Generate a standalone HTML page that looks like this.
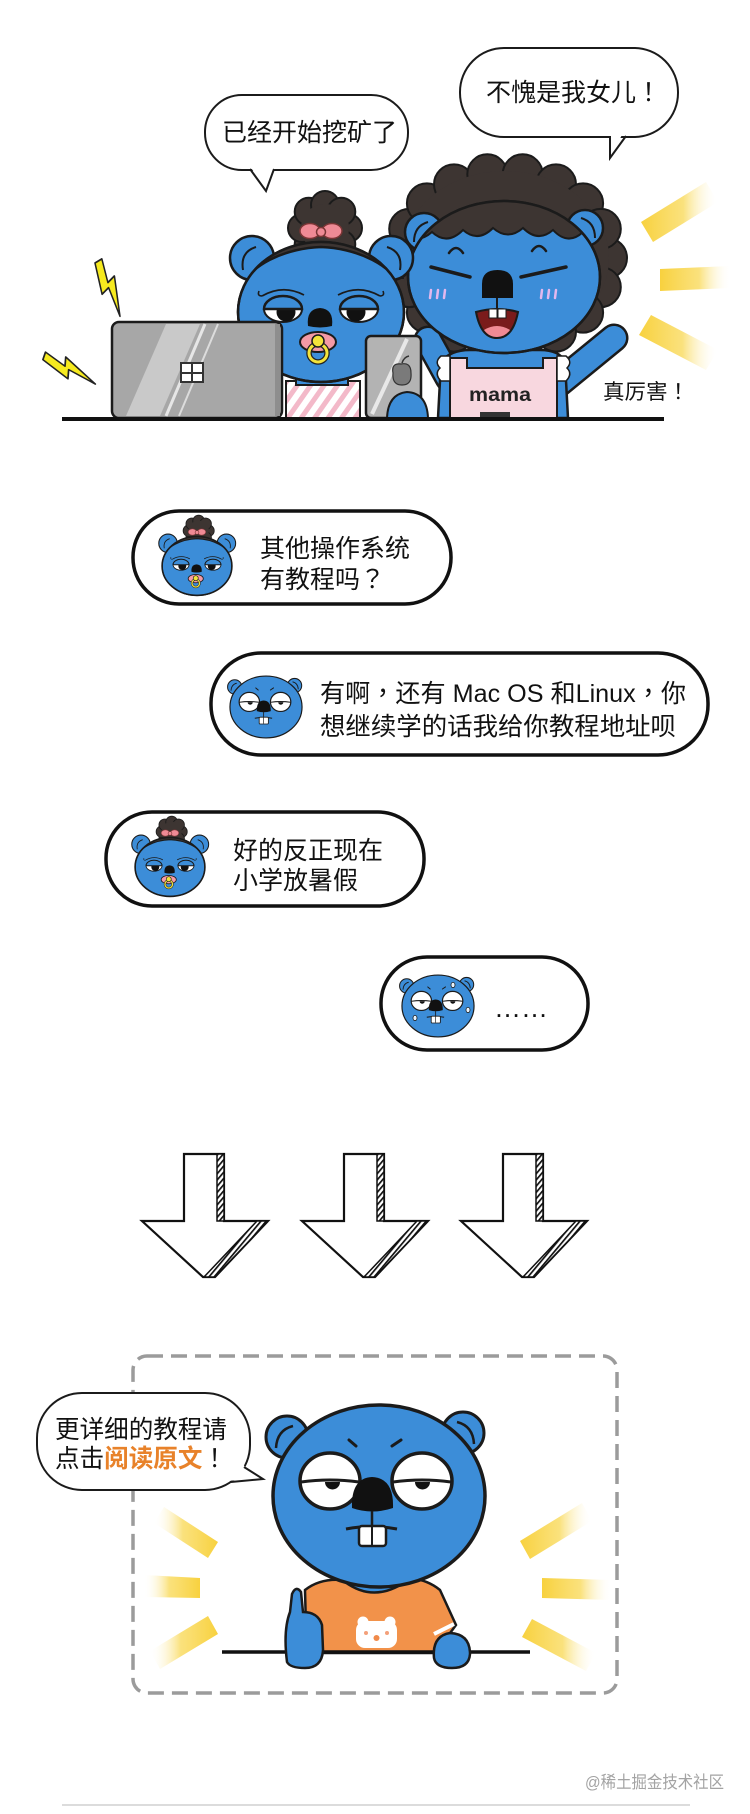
<!DOCTYPE html>
<html>
<head>
<meta charset="utf-8">
<style>
html,body{margin:0;padding:0;background:#fff;}
svg{display:block;}
text{font-family:"Liberation Sans","Noto Sans CJK TC",sans-serif;}
</style>
</head>
<body>
<svg width="750" height="1814" viewBox="0 0 750 1814" xmlns="http://www.w3.org/2000/svg">
<defs>
  <linearGradient id="gR" x1="0" y1="0" x2="1" y2="0">
    <stop offset="0" stop-color="#f8d13e" stop-opacity="1"/>
    <stop offset="0.55" stop-color="#f9da5c" stop-opacity="0.8"/>
    <stop offset="1" stop-color="#ffffff" stop-opacity="0"/>
  </linearGradient>
  <linearGradient id="gL" x1="1" y1="0" x2="0" y2="0">
    <stop offset="0" stop-color="#f8d13e" stop-opacity="1"/>
    <stop offset="0.55" stop-color="#f9da5c" stop-opacity="0.8"/>
    <stop offset="1" stop-color="#ffffff" stop-opacity="0"/>
  </linearGradient>
  <pattern id="hatch" width="4" height="4" patternUnits="userSpaceOnUse" patternTransform="rotate(40)">
    <rect width="4" height="4" fill="#fff"/>
    <rect x="0" y="0" width="1.7" height="4" fill="#111"/>
  </pattern>
  <pattern id="stripes" width="11" height="11" patternUnits="userSpaceOnUse" patternTransform="rotate(35)">
    <rect width="11" height="11" fill="#fff"/>
    <rect width="5" height="11" fill="#f3b9c9"/>
  </pattern>
  <clipPath id="momHead"><ellipse cx="504" cy="277" rx="96" ry="76"/></clipPath>
  <clipPath id="babyHead"><ellipse cx="321" cy="312" rx="83" ry="70"/></clipPath>
  <polygon id="bolt" points="12,0 2,26 11,24 6,50 22,18 13,20 20,0" fill="#f6ea1f" stroke="#222" stroke-width="1.5" stroke-linejoin="round"/>

  <g id="babyhead">
    <g fill="#3d3532" stroke="#1b1b1b" stroke-width="2">
      <circle cx="348" cy="228" r="14"/><circle cx="341.3" cy="244.3" r="14"/>
      <circle cx="325" cy="251" r="14"/><circle cx="308.7" cy="244.3" r="14"/>
      <circle cx="302" cy="228" r="14"/><circle cx="308.7" cy="211.7" r="14"/>
      <circle cx="325" cy="205" r="14"/><circle cx="341.3" cy="211.7" r="14"/>
    </g>
    <circle cx="325" cy="228" r="24" fill="#3d3532"/>
    <circle cx="252" cy="258" r="22" fill="#3c8dd8" stroke="#1b1b1b" stroke-width="2.5"/>
    <path d="M243,270 Q240,252 256,247" fill="none" stroke="#1b1b1b" stroke-width="2"/>
    <circle cx="391" cy="258" r="22" fill="#3c8dd8" stroke="#1b1b1b" stroke-width="2.5"/>
    <path d="M400,270 Q403,252 387,247" fill="none" stroke="#1b1b1b" stroke-width="2"/>
    <ellipse cx="321" cy="312" rx="83" ry="70" fill="#3c8dd8" stroke="#1b1b1b" stroke-width="2.5"/>
    <g clip-path="url(#babyHead)">
      <path d="M234,302 C244,262 290,248 321,247 C352,248 398,262 408,302 L420,302 L420,225 L222,225 L222,302 Z" fill="#3d3532" stroke="#1b1b1b" stroke-width="2.5"/>
    </g>
    <ellipse cx="321" cy="312" rx="83" ry="70" fill="none" stroke="#1b1b1b" stroke-width="2.5"/>
    <ellipse cx="310" cy="231" rx="10" ry="7.5" fill="#ef8a95" stroke="#7a3535" stroke-width="1.5"/>
    <ellipse cx="332" cy="231" rx="10" ry="7.5" fill="#ef8a95" stroke="#7a3535" stroke-width="1.5"/>
    <circle cx="321" cy="232" r="4.5" fill="#ef8a95" stroke="#7a3535" stroke-width="1.5"/>
    <path d="M262,296 Q283,284 304,295" fill="none" stroke="#1b1b1b" stroke-width="1.8"/>
    <path d="M262,296 Q257,296 259,291" fill="none" stroke="#1b1b1b" stroke-width="1.6"/>
    <ellipse cx="283" cy="309" rx="19" ry="13" fill="#fff" stroke="#1b1b1b" stroke-width="2"/>
    <circle cx="286" cy="312" r="9.5" fill="#111"/>
    <path d="M264,309 A19,13 0 0 1 302,309 Z" fill="#3c8dd8" stroke="#1b1b1b" stroke-width="2.5"/>
    <path d="M380,296 Q359,284 338,295" fill="none" stroke="#1b1b1b" stroke-width="1.8"/>
    <path d="M380,296 Q385,296 383,291" fill="none" stroke="#1b1b1b" stroke-width="1.6"/>
    <ellipse cx="359" cy="309" rx="19" ry="13" fill="#fff" stroke="#1b1b1b" stroke-width="2"/>
    <circle cx="356" cy="312" r="9.5" fill="#111"/>
    <path d="M340,309 A19,13 0 0 1 378,309 Z" fill="#3c8dd8" stroke="#1b1b1b" stroke-width="2.5"/>
    <path d="M308,326 Q306,309 320,308 Q334,309 332,326 Q320,329 308,326 Z" fill="#111"/>
    <ellipse cx="318" cy="342" rx="18" ry="10" fill="#f49aa6" stroke="#1b1b1b" stroke-width="2"/>
    <circle cx="318" cy="353" r="9" fill="none" stroke="#222" stroke-width="5.5"/>
    <circle cx="318" cy="353" r="9" fill="none" stroke="#f3e33a" stroke-width="3"/>
    <circle cx="318" cy="341" r="6" fill="#f3e33a" stroke="#1b1b1b" stroke-width="1.5"/>
  </g>

  <g id="gopher">
    <circle cx="287" cy="1437" r="21" fill="#3c8dd8" stroke="#1b1b1b" stroke-width="3"/>
    <path d="M276,1448 Q277,1430 293,1426" fill="none" stroke="#1b1b1b" stroke-width="2.5"/>
    <circle cx="463" cy="1433" r="21" fill="#3c8dd8" stroke="#1b1b1b" stroke-width="3"/>
    <path d="M474,1444 Q473,1426 457,1422" fill="none" stroke="#1b1b1b" stroke-width="2.5"/>
    <ellipse cx="379" cy="1496" rx="106" ry="91" fill="#3c8dd8" stroke="#1b1b1b" stroke-width="3.5"/>
    <path d="M349,1440 L356,1446 M392,1446 L401,1440" stroke="#1b1b1b" stroke-width="3" stroke-linecap="round"/>
    <ellipse cx="330" cy="1481" rx="30" ry="28" fill="#fff" stroke="#1b1b1b" stroke-width="3.5"/>
    <path d="M301,1482 Q330,1478 359,1482" fill="none" stroke="#1b1b1b" stroke-width="3"/>
    <path d="M325,1482 A7,7 0 0 0 340,1482 Z" fill="#111"/>
    <ellipse cx="422" cy="1481" rx="30" ry="28" fill="#fff" stroke="#1b1b1b" stroke-width="3.5"/>
    <path d="M393,1482 Q422,1478 451,1482" fill="none" stroke="#1b1b1b" stroke-width="3"/>
    <path d="M415,1482 A7,7 0 0 0 430,1482 Z" fill="#111"/>
    <path d="M352,1508 Q351,1478 372,1477 Q394,1478 393,1508 Q372,1515 352,1508 Z" fill="#111"/>
    <path d="M372,1511 L372,1525" stroke="#1b1b1b" stroke-width="2.5"/>
    <path d="M346,1529 Q372,1524 397,1529" fill="none" stroke="#1b1b1b" stroke-width="3"/>
    <rect x="359" y="1526" width="27" height="20" rx="3" fill="#fff" stroke="#1b1b1b" stroke-width="2.5"/>
    <path d="M372,1527 L372,1545" stroke="#1b1b1b" stroke-width="2"/>
  </g>

  <g id="arrow">
    <polygon points="184,1154 224,1154 224,1221 268,1221 215,1277 203,1277 142,1221 184,1221" fill="#fff" stroke="#111" stroke-width="2.2" stroke-linejoin="miter"/>
    <polygon points="217,1154 224,1154 224,1221 217,1221" fill="url(#hatch)" stroke="#111" stroke-width="1.5"/>
    <polygon points="257,1221 268,1221 215,1277 204,1277" fill="url(#hatch)" stroke="#111" stroke-width="1.5"/>
  </g>
</defs>

<rect width="750" height="1814" fill="#fff"/>

<!-- ================= TOP SCENE ================= -->
<polygon points="641,222 653,242 718,202 706,182" fill="url(#gR)"/>
<polygon points="660,269 731,266 731,288 660,291" fill="url(#gR)"/>
<polygon points="651,315 639,335 706,370 718,350" fill="url(#gR)"/>

<use href="#bolt" transform="translate(84.7,269.2) rotate(-31) scale(1,1.17)"/>
<use href="#bolt" transform="translate(39,371) rotate(-71) scale(1,1.15)"/>

<g fill="#3d3532" stroke="#1b1b1b" stroke-width="2">
  <circle cx="607" cy="258" r="20"/><circle cx="600.8" cy="287.1" r="20"/>
  <circle cx="583.1" cy="312.6" r="20"/><circle cx="556" cy="331.6" r="20"/>
  <circle cx="522.7" cy="341.7" r="20"/><circle cx="487.3" cy="341.7" r="20"/>
  <circle cx="454" cy="331.6" r="20"/><circle cx="426.9" cy="312.6" r="20"/>
  <circle cx="409.2" cy="287.1" r="20"/><circle cx="403" cy="258" r="20"/>
  <circle cx="409.2" cy="228.9" r="20"/><circle cx="426.9" cy="203.4" r="20"/>
  <circle cx="454" cy="184.4" r="20"/><circle cx="487.3" cy="174.3" r="20"/>
  <circle cx="522.7" cy="174.3" r="20"/><circle cx="556" cy="184.4" r="20"/>
  <circle cx="583.1" cy="203.4" r="20"/><circle cx="600.8" cy="228.9" r="20"/>
</g>
<ellipse cx="505" cy="258" rx="104" ry="87" fill="#3d3532"/>

<path d="M449,378 L428,340" stroke="#1b1b1b" stroke-width="29" stroke-linecap="round"/>
<path d="M449,378 L428,340" stroke="#3c8dd8" stroke-width="24" stroke-linecap="round"/>
<path d="M548,392 L614,338" stroke="#1b1b1b" stroke-width="29" stroke-linecap="round"/>
<path d="M548,392 L614,338" stroke="#3c8dd8" stroke-width="24" stroke-linecap="round"/>
<path d="M438,418 L441,362 Q450,350 470,350 L540,350 Q560,350 565,362 L568,418 Z" fill="#3c8dd8" stroke="#1b1b1b" stroke-width="2.5"/>
<path d="M450,418 L450,358 L467,358 L467,368 L543,368 L543,358 L557,358 L557,418 Z" fill="#f8d7df" stroke="#1b1b1b" stroke-width="2"/>
<path d="M441,356 Q434,362 440,368 Q434,374 441,381 L450,381 L450,356 Z" fill="#fff" stroke="#1b1b1b" stroke-width="1.5"/>
<path d="M566,356 Q573,362 567,368 Q573,374 566,381 L557,381 L557,356 Z" fill="#fff" stroke="#1b1b1b" stroke-width="1.5"/>
<text x="469" y="401" font-size="19" font-weight="bold" fill="#222" textLength="62" lengthAdjust="spacingAndGlyphs">mama</text>
<rect x="480" y="412" width="30" height="6" fill="#333"/>

<circle cx="424" cy="232" r="19" fill="#3c8dd8" stroke="#1b1b1b" stroke-width="2.5"/>
<path d="M414,242 Q414,226 428,222" fill="none" stroke="#1b1b1b" stroke-width="2"/>
<circle cx="585" cy="228" r="18" fill="#3c8dd8" stroke="#1b1b1b" stroke-width="2.5"/>
<path d="M595,238 Q595,222 581,218" fill="none" stroke="#1b1b1b" stroke-width="2"/>
<ellipse cx="504" cy="277" rx="96" ry="76" fill="#3c8dd8" stroke="#1b1b1b" stroke-width="2.5"/>
<g clip-path="url(#momHead)">
  <path d="M400,232 Q416,246 432,232 Q447,246 463,230 Q478,243 493,228 Q508,241 523,228 Q538,243 553,230 Q568,246 583,232 Q598,246 612,234 L612,190 L400,190 Z" fill="#3d3532" stroke="#1b1b1b" stroke-width="2"/>
</g>
<ellipse cx="504" cy="277" rx="96" ry="76" fill="none" stroke="#1b1b1b" stroke-width="2.5"/>
<path d="M449,253 Q456,243 463,253 M532,251 Q539,241 546,251" fill="none" stroke="#1b1b1b" stroke-width="2.5" stroke-linecap="round"/>
<path d="M431,267 L470,277 M521,277 L566,267" stroke="#1b1b1b" stroke-width="3.5" stroke-linecap="round"/>
<path d="M431,290 L430,298 M438,290 L437,298 M445,290 L444,298 M542,290 L541,298 M549,290 L548,298 M556,290 L555,298" stroke="#e2b8ee" stroke-width="2.5" stroke-linecap="round"/>
<path d="M482,298 L482,284 Q482,270 497.5,270 Q513,270 513,284 L513,298 Z" fill="#111"/>
<path d="M497,298 L497,309" stroke="#1b1b1b" stroke-width="2"/>
<path d="M476,312 Q497,306 518,312 Q513,338 497,338 Q481,338 476,312 Z" fill="#7a1b1b" stroke="#1b1b1b" stroke-width="2"/>
<path d="M484,330 Q497,322 510,330 Q505,337 497,337 Q489,337 484,330 Z" fill="#f08a94"/>
<rect x="489" y="309" width="8" height="9" fill="#fff" stroke="#1b1b1b" stroke-width="1"/>
<rect x="498" y="309" width="8" height="9" fill="#fff" stroke="#1b1b1b" stroke-width="1"/>

<rect x="286" y="381" width="74" height="37" fill="url(#stripes)" stroke="#1b1b1b" stroke-width="2"/>
<rect x="296" y="372" width="52" height="13" fill="#3c8dd8" stroke="#1b1b1b" stroke-width="2"/>
<use href="#babyhead"/>

<rect x="112" y="322" width="170" height="96" rx="7" fill="#a7a7a7" stroke="#1b1b1b" stroke-width="2.5"/>
<polygon points="166,324 200,324 160,416 126,416" fill="#c9c9c9"/>
<line x1="205" y1="324" x2="166" y2="416" stroke="#e6e6e6" stroke-width="3"/>
<line x1="218" y1="324" x2="179" y2="416" stroke="#dcdcdc" stroke-width="2"/>
<rect x="275" y="324" width="5" height="92" fill="#8e8e8e"/>
<rect x="180" y="362" width="24" height="21" fill="#333"/>
<rect x="182" y="364" width="9" height="8" fill="#fff"/>
<rect x="193" y="364" width="9" height="8" fill="#fff"/>
<rect x="182" y="374" width="9" height="7" fill="#fff"/>
<rect x="193" y="374" width="9" height="7" fill="#fff"/>

<rect x="366" y="336" width="55" height="82" rx="5" fill="#b3b3b3" stroke="#1b1b1b" stroke-width="2.5"/>
<line x1="407" y1="339" x2="372" y2="414" stroke="#e8e8e8" stroke-width="4"/>
<path d="M393,373 Q391,363 401,364 Q411,362 411,373 Q412,385 402,385 Q392,385 393,373 Z" fill="#7a7a7a" stroke="#333" stroke-width="1.2"/>
<path d="M402,363 Q404,357 409,356" fill="none" stroke="#333" stroke-width="1.5"/>
<path d="M387,418 Q388,394 407,392 Q427,393 428,418 Z" fill="#3c8dd8" stroke="#1b1b1b" stroke-width="2"/>

<line x1="62" y1="419" x2="664" y2="419" stroke="#111" stroke-width="4"/>

<rect x="205" y="95" width="203" height="75" rx="37" fill="#fff" stroke="#1b1b1b" stroke-width="2"/>
<polygon points="249,165 266,189 276,165" fill="#fff"/>
<polyline points="250,169 266,191 274,169" fill="none" stroke="#1b1b1b" stroke-width="2"/>
<text x="222" y="141" font-size="25" fill="#111" textLength="175" lengthAdjust="spacingAndGlyphs">已经开始挖矿了</text>

<rect x="460" y="48" width="218" height="89" rx="44" fill="#fff" stroke="#1b1b1b" stroke-width="2"/>
<polygon points="611,131 611,156 624,131" fill="#fff"/>
<polyline points="610,136 610,158 626,136" fill="none" stroke="#1b1b1b" stroke-width="2"/>
<text x="486" y="101" font-size="25" fill="#111" textLength="175" lengthAdjust="spacingAndGlyphs">不愧是我女儿！</text>

<text x="603" y="399" font-size="21" fill="#111" textLength="86" lengthAdjust="spacingAndGlyphs">真厉害！</text>

<!-- ================= CHAT ================= -->
<rect x="133" y="511" width="318" height="93" rx="46" fill="#fff" stroke="#111" stroke-width="3.5"/>
<use href="#babyhead" transform="translate(197,566) scale(0.42) translate(-321,-312)"/>
<ellipse cx="197" cy="566" rx="34.9" ry="29.4" fill="none" stroke="#1b1b1b" stroke-width="1.6"/>
<text x="260" y="557" font-size="25" fill="#111" textLength="150" lengthAdjust="spacingAndGlyphs">其他操作系统</text>
<text x="260" y="588" font-size="25" fill="#111" textLength="125" lengthAdjust="spacingAndGlyphs">有教程吗？</text>

<rect x="211" y="653" width="497" height="102" rx="50" fill="#fff" stroke="#111" stroke-width="3.5"/>
<use href="#gopher" transform="translate(266,707) scale(0.34) translate(-379,-1496)"/>
<text x="320" y="702" font-size="25" fill="#111" textLength="366" lengthAdjust="spacingAndGlyphs">有啊，还有 Mac OS 和Linux，你</text>
<text x="320" y="735" font-size="25" fill="#111" textLength="356" lengthAdjust="spacingAndGlyphs">想继续学的话我给你教程地址呗</text>

<rect x="106" y="812" width="318" height="94" rx="46" fill="#fff" stroke="#111" stroke-width="3.5"/>
<use href="#babyhead" transform="translate(170,867) scale(0.42) translate(-321,-312)"/>
<ellipse cx="170" cy="867" rx="34.9" ry="29.4" fill="none" stroke="#1b1b1b" stroke-width="1.6"/>
<text x="233" y="859" font-size="25" fill="#111" textLength="150" lengthAdjust="spacingAndGlyphs">好的反正现在</text>
<text x="233" y="889" font-size="25" fill="#111" textLength="125" lengthAdjust="spacingAndGlyphs">小学放暑假</text>

<rect x="381" y="957" width="207" height="93" rx="46" fill="#fff" stroke="#111" stroke-width="3.5"/>
<use href="#gopher" transform="translate(438,1006) scale(0.34) translate(-379,-1496)"/>
<g fill="#e8f4ff" stroke="#1b1b1b" stroke-width="0.8">
  <ellipse cx="453" cy="985" rx="2" ry="2.6"/>
  <ellipse cx="468" cy="1010" rx="2" ry="2.6"/>
  <ellipse cx="415" cy="1018" rx="2" ry="2.6"/>
</g>
<text x="494" y="1017" font-size="27" fill="#111" style="font-family:'Liberation Sans',sans-serif">……</text>

<!-- ================= ARROWS ================= -->
<use href="#arrow"/>
<use href="#arrow" transform="translate(160,0)"/>
<use href="#arrow" transform="translate(319,0)"/>

<!-- ================= BOTTOM SCENE ================= -->
<rect x="133" y="1356" width="484" height="337" rx="14" fill="none" stroke="#9b9b9b" stroke-width="3.5" stroke-dasharray="16 8"/>

<polygon points="164,1507 218,1542 208,1558 154,1523" fill="url(#gL)"/>
<polygon points="144,1575 200,1578 200,1598 144,1597" fill="url(#gL)"/>
<polygon points="208,1616 218,1634 160,1669 150,1651" fill="url(#gL)"/>
<polygon points="520,1541 530,1559 592,1521 582,1503" fill="url(#gR)"/>
<polygon points="542,1578 612,1580 612,1600 542,1598" fill="url(#gR)"/>
<polygon points="532,1619 522,1637 586,1671 596,1653" fill="url(#gR)"/>

<path d="M305,1590 Q320,1578 343,1580 Q375,1604 410,1578 Q428,1580 440,1590 L456,1625 L445,1640 L441,1653 L311,1653 L306,1628 Z" fill="#f2924a" stroke="#1b1b1b" stroke-width="2.5"/>
<path d="M345,1572 L345,1582 Q375,1604 408,1580 L408,1572 Z" fill="#3c8dd8"/>
<path d="M345,1582 Q375,1604 408,1580" fill="none" stroke="#1b1b1b" stroke-width="2.5"/>
<line x1="434" y1="1634" x2="454" y2="1624" stroke="#fff" stroke-width="4"/>
<circle cx="363" cy="1622" r="5.5" fill="#fff"/>
<circle cx="390" cy="1622" r="5.5" fill="#fff"/>
<rect x="356" y="1621" width="41" height="27" rx="9" fill="#fff"/>
<circle cx="366" cy="1633" r="2" fill="#f3a07a"/>
<circle cx="387" cy="1633" r="2" fill="#f3a07a"/>
<circle cx="376.5" cy="1638" r="3" fill="#f08a4a"/>

<use href="#gopher"/>

<line x1="222" y1="1652" x2="530" y2="1652" stroke="#111" stroke-width="3.5"/>

<path d="M287,1662 Q283,1630 290,1612 L292,1594 Q296,1585 301,1592 L303,1612 Q318,1612 322,1625 L323,1650 Q322,1668 305,1668 Q290,1668 287,1662 Z" fill="#3c8dd8" stroke="#1b1b1b" stroke-width="2.5"/>
<path d="M434,1658 Q432,1636 450,1633 Q470,1634 470,1654 Q469,1668 452,1668 Q436,1668 434,1658 Z" fill="#3c8dd8" stroke="#1b1b1b" stroke-width="2.5"/>

<rect x="37" y="1393" width="213" height="97" rx="45" fill="#fff" stroke="#1b1b1b" stroke-width="2"/>
<polygon points="240,1463 262,1478 227,1481" fill="#fff"/>
<polyline points="244,1467 263,1479 231,1482" fill="none" stroke="#1b1b1b" stroke-width="2"/>
<text x="55" y="1438" font-size="25" fill="#111" textLength="172" lengthAdjust="spacingAndGlyphs">更详细的教程请</text>
<text x="55" y="1467" font-size="25" fill="#111" textLength="172" lengthAdjust="spacingAndGlyphs">点击<tspan fill="#e8822a" font-weight="bold">阅读原文</tspan>！</text>

<text x="585" y="1788" font-size="17" fill="#a3a3a3" textLength="139" lengthAdjust="spacingAndGlyphs">@稀土掘金技术社区</text>
<line x1="62" y1="1805" x2="690" y2="1805" stroke="#d0d0d0" stroke-width="1.5"/>
</svg>
</body>
</html>
